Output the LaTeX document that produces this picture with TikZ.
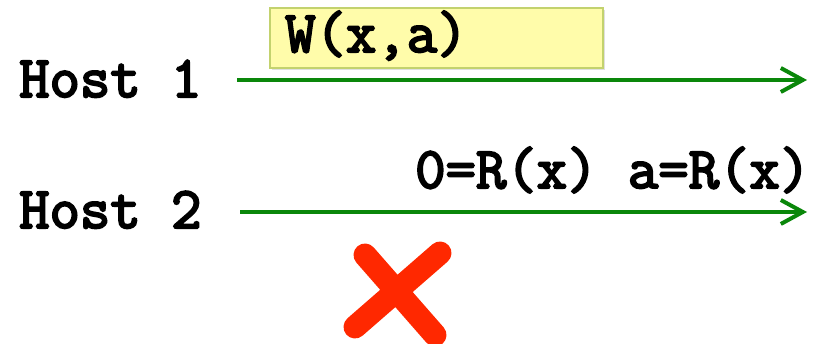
\documentclass[tikz,border=0pt]{standalone}
\usepackage{fontspec}
\setmonofont{Latin Modern Mono}[BoldFont={Latin Modern Mono}, BoldFeatures={FakeBold=3.5}]
\usetikzlibrary{arrows.meta,shadows}
\begin{document}
\begin{tikzpicture}[
    x=1pt, y=1pt,
    font=\ttfamily\bfseries\fontsize{59}{68}\selectfont,
    hostlabel/.style={anchor=base west, inner sep=0pt},
    timeline/.style={line width=4pt, draw=lineg, -{Straight Barb[length=22pt, width=24pt]}},
    opbox/.style={draw=boxedge, fill=boxfill, line width=1.2pt,
        drop shadow={shadow xshift=1.5pt, shadow yshift=-2pt, opacity=0.25}}
]

% Colours
\definecolor{lineg}{RGB}{10, 135, 10}
\definecolor{boxfill}{RGB}{255, 252, 170}
\definecolor{boxedge}{RGB}{195, 210, 110}
\definecolor{crossred}{RGB}{255, 40, 0}

\useasboundingbox (0, 0) rectangle (817, 344);

% Hosts
\node[hostlabel] (host1) at (19, 247) {Host 1};
\node[hostlabel] (host2) at (19, 116) {Host 2};

% Time lines
\coordinate (h1start) at (237, 264);
\coordinate (h1end) at (807, 264);
\coordinate (h2start) at (240, 132);
\coordinate (h2end) at (807, 132);
\draw[timeline] (h1start) -- (h1end);
\draw[timeline] (h2start) -- (h2end);

% Write on host 1
\draw[opbox] (270, 276) rectangle (603, 336);
\node[hostlabel] (write) at (285, 292) {W(x,a)};

% Reads on host 2
\node[hostlabel] (reads) at (415, 156) {0=R(x) a=R(x)};

% Cross
\draw[crossred, line width=23pt, line cap=round] (365, 89) -- (435, 9);
\draw[crossred, line width=23pt, line cap=round] (440, 91) -- (355, 17);

\end{tikzpicture}
\end{document}
